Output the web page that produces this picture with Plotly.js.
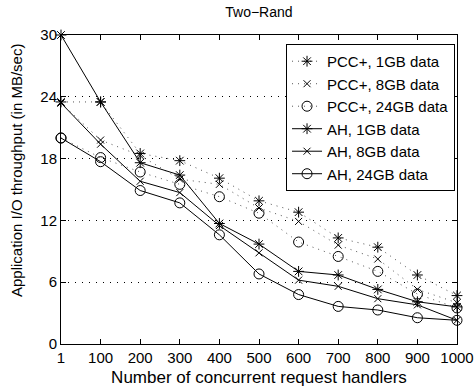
<!DOCTYPE html>
<html>
<head>
<meta charset="utf-8">
<script src="https://cdn.plot.ly/plotly-3.0.1.min.js"></script>
<style>html,body{margin:0;padding:0;background:#fff;}#chart{width:476px;height:391px;}</style>
</head>
<body>
<div id="chart"></div>
<script>
var handlers = ["1","100","200","300","400","500","600","700","800","900","1000"];
var pcc1GB  = [23.5, 23.5, 18.5, 17.8, 16.1, 13.9, 12.8, 10.3, 9.4, 6.7, 4.7];
var pcc8GB  = [23.4, 19.8, 18.3, 16.0, 15.5, 13.2, 11.9, 9.6, 8.25, 5.3, 4.0];
var pcc24GB = [20.0, 18.1, 16.7, 15.5, 14.3, 12.7, 9.9, 8.5, 7.05, 4.85, 3.5];
var ah1GB   = [30.0, 23.5, 17.6, 16.4, 11.7, 9.7, 7.05, 6.7, 5.3, 4.1, 3.6];
var ah8GB   = [23.4, 19.4, 15.8, 14.7, 11.5, 8.85, 6.2, 5.6, 4.4, 3.8, 2.3];
var ah24GB  = [20.0, 17.7, 14.9, 13.7, 10.6, 6.8, 4.8, 3.65, 3.3, 2.55, 2.3];
var seriesNames = ["PCC+, 1GB data","PCC+, 8GB data","PCC+, 24GB data","AH, 1GB data","AH, 8GB data","AH, 24GB data"];
var yTicks = [0, 6, 12, 18, 24, 30];
var yTitle = "Application I/O throughput (in MB/sec)";

var FONT = "Liberation Sans, Arial, sans-serif";
function tr(name, y, symbol, size, dotted) {
  return {
    type: "scatter", mode: "lines+markers", name: name,
    x: handlers, y: y, cliponaxis: false,
    line: {color: dotted ? "#555" : "#000", width: 1, dash: dotted ? "1px,5px" : "solid"},
    marker: {symbol: symbol, size: size, color: "#000", line: {color: "#000", width: 1}}
  };
}
var data = [
  tr(seriesNames[0], pcc1GB, "asterisk-open", 9, true),
  tr(seriesNames[1], pcc8GB, "x-thin-open", 7, true),
  tr(seriesNames[2], pcc24GB, "circle-open", 10, true),
  tr(seriesNames[3], ah1GB, "asterisk-open", 9, false),
  tr(seriesNames[4], ah8GB, "x-thin-open", 7, false),
  tr(seriesNames[5], ah24GB, "circle-open", 10, false)
];
var layout = {
  width: 476, height: 391,
  margin: {l: 61, r: 19, t: 35, b: 47},
  paper_bgcolor: "#fff", plot_bgcolor: "#fff",
  font: {family: FONT, size: 15, color: "#000"},
  title: {text: "Two\u2212Rand", x: 0.544, xanchor: "center", y: 0.97, yanchor: "middle", font: {family: FONT, size: 14}},
  showlegend: true,
  legend: {x: 0.995, xanchor: "right", y: 0.971, yanchor: "top", bgcolor: "#fff", bordercolor: "#000", borderwidth: 1,
           font: {family: FONT, size: 15}, tracegroupgap: 0, itemwidth: 30},
  xaxis: {
    type: "category", range: [0, 10], showline: true, linecolor: "#000", linewidth: 1, mirror: "ticks",
    ticks: "inside", ticklen: 5, tickcolor: "#000", showgrid: false, zeroline: false,
    tickfont: {family: FONT, size: 15},
    title: {text: "Number of concurrent request handlers", font: {family: FONT, size: 17}, standoff: 6}
  },
  yaxis: {
    range: [0, 30], tickvals: yTicks, showline: true, linecolor: "#000", linewidth: 1, mirror: "ticks",
    ticks: "inside", ticklen: 5, tickcolor: "#000", showgrid: true, gridcolor: "#000", gridwidth: 1, griddash: "1px,6px",
    zeroline: false, tickfont: {family: FONT, size: 15}
  },
  annotations: [{
    text: yTitle, xref: "paper", yref: "paper", x: -0.111, y: 0.56, xanchor: "center", yanchor: "middle",
    textangle: -90, showarrow: false, font: {family: FONT, size: 15, color: "#000"}
  }]
};
Plotly.newPlot("chart", data, layout, {staticPlot: true, displayModeBar: false});
</script>
</body>
</html>
